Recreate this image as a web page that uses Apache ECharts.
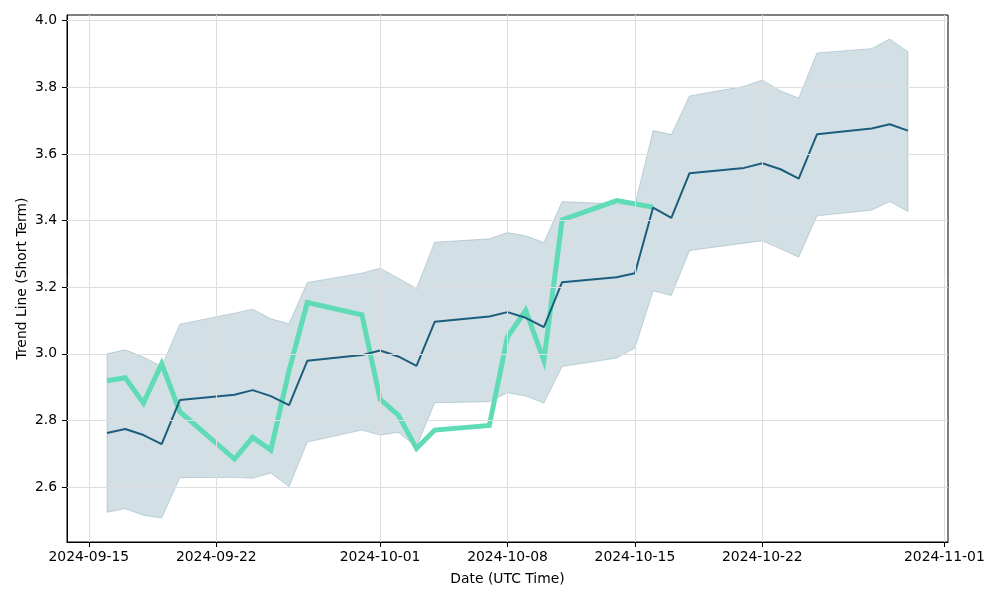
<!DOCTYPE html>
<html>
<head>
<meta charset="utf-8">
<script src="https://cdn.jsdelivr.net/npm/echarts@6/dist/echarts.min.js"></script>
<style>
  html, body { margin: 0; padding: 0; background: #fff; }
  #chart { width: 1000px; height: 600px; }
</style>
</head>
<body>
<div id="chart"></div>
<script>
// trading days (UTC)
const dates = ['2024-09-16', '2024-09-17', '2024-09-18', '2024-09-19', '2024-09-20',
  '2024-09-23', '2024-09-24', '2024-09-25', '2024-09-26', '2024-09-27',
  '2024-09-30', '2024-10-01', '2024-10-02', '2024-10-03', '2024-10-04',
  '2024-10-07', '2024-10-08', '2024-10-09', '2024-10-10', '2024-10-11',
  '2024-10-14', '2024-10-15', '2024-10-16', '2024-10-17', '2024-10-18',
  '2024-10-21', '2024-10-22', '2024-10-23', '2024-10-24', '2024-10-25',
  '2024-10-28', '2024-10-29', '2024-10-30'];

const meanLine = [2.762, 2.774, 2.756, 2.729, 2.861, 2.877, 2.891, 2.873, 2.846, 2.979,
  2.996, 3.010, 2.992, 2.964, 3.096, 3.112, 3.125, 3.108, 3.080, 3.215,
  3.230, 3.242, 3.439, 3.408, 3.542, 3.558, 3.572, 3.554, 3.526, 3.659,
  3.676, 3.689, 3.670];

const upperBand = [3.000, 3.012, 2.990, 2.962, 3.089, 3.122, 3.134, 3.105, 3.090, 3.214,
  3.242, 3.257, 3.227, 3.196, 3.335, 3.345, 3.364, 3.354, 3.334, 3.457,
  3.450, 3.447, 3.670, 3.658, 3.774, 3.803, 3.822, 3.789, 3.768, 3.903,
  3.916, 3.945, 3.907];

const lowerBand = [2.524, 2.535, 2.515, 2.507, 2.628, 2.629, 2.626, 2.642, 2.601, 2.735,
  2.771, 2.756, 2.764, 2.721, 2.853, 2.856, 2.883, 2.873, 2.852, 2.962,
  2.987, 3.017, 3.189, 3.175, 3.310, 3.332, 3.339, 3.315, 3.290, 3.414,
  3.431, 3.457, 3.427];

// short term trend (green)
const trendDates = ['2024-09-16', '2024-09-17', '2024-09-18', '2024-09-19', '2024-09-20',
  '2024-09-23', '2024-09-24', '2024-09-25', '2024-09-26', '2024-09-27',
  '2024-09-30', '2024-10-01', '2024-10-02', '2024-10-03', '2024-10-04',
  '2024-10-07', '2024-10-08', '2024-10-09', '2024-10-10', '2024-10-11',
  '2024-10-14', '2024-10-16'];
const trendLine = [2.919, 2.928, 2.852, 2.970, 2.826, 2.684, 2.749, 2.711, 2.950, 3.154,
  3.117, 2.864, 2.816, 2.716, 2.771, 2.785, 3.051, 3.130, 2.980, 3.402,
  3.460, 3.440];

const xTicks = ['2024-09-15', '2024-09-22', '2024-10-01', '2024-10-08', '2024-10-15', '2024-10-22', '2024-11-01'];
const yTicks = [2.6, 2.8, 3.0, 3.2, 3.4, 3.6, 3.8, 4.0];

function utc(d) { return new Date(d + 'T00:00:00Z').getTime(); }
function pad(n) { return n < 10 ? '0' + n : '' + n; }
function fmtDate(v) {
  const d = new Date(v);
  return d.getUTCFullYear() + '-' + pad(d.getUTCMonth() + 1) + '-' + pad(d.getUTCDate());
}

const DAY = 86400000;
const xMin = utc(dates[0]) - 2.2 * DAY;
const xMax = utc(dates[dates.length - 1]) + 2.2 * DAY;
const xTickTimes = xTicks.map(utc);
const bandData = dates.map((d, i) => [utc(d), lowerBand[i], upperBand[i]]);

const font = { fontFamily: 'DejaVu Sans', fontSize: 13.9, color: '#000' };
const bandColor = 'rgba(31,95,127,0.2)';
const edgeColor = 'rgba(31,95,127,0.22)';

// whole band as one polygon (upper edge forward, lower edge back)
function renderBand(params, api) {
  if (params.dataIndex !== 0) return null;
  const pts = [];
  for (let i = 0; i < bandData.length; i++) pts.push(api.coord([bandData[i][0], bandData[i][2]]));
  for (let i = bandData.length - 1; i >= 0; i--) pts.push(api.coord([bandData[i][0], bandData[i][1]]));
  return {
    type: 'polygon',
    shape: { points: pts },
    style: { fill: bandColor, stroke: edgeColor, lineWidth: 1 }
  };
}

const chart = echarts.init(document.getElementById('chart'), null, { renderer: 'canvas' });
chart.setOption({
  animation: false,
  textStyle: { fontFamily: 'DejaVu Sans' },
  grid: {
    left: 67, right: 52, top: 15, bottom: 58,
    show: true, borderColor: '#000', borderWidth: 1,
    outerBoundsMode: 'none'
  },
  xAxis: {
    type: 'value',
    min: xMin,
    max: xMax,
    scale: true,
    name: 'Date (UTC Time)',
    nameLocation: 'middle',
    nameGap: 30,
    nameTextStyle: font,
    axisLine: { show: true, lineStyle: { color: '#000', width: 1 } },
    axisTick: { show: true, customValues: xTickTimes, length: 5, lineStyle: { color: '#000' } },
    axisLabel: { customValues: xTickTimes, formatter: fmtDate, margin: 8, hideOverlap: false, ...font },
    splitLine: { show: false }
  },
  yAxis: {
    type: 'value',
    min: 2.435,
    max: 4.017,
    name: 'Trend Line (Short Term)',
    nameLocation: 'middle',
    nameGap: 38,
    nameMoveOverlap: false,
    nameTextStyle: font,
    axisLine: { show: true, lineStyle: { color: '#000', width: 1 } },
    axisTick: { show: true, customValues: yTicks, length: 5, lineStyle: { color: '#000' } },
    axisLabel: { customValues: yTicks, formatter: v => v.toFixed(1), margin: 10, ...font },
    splitLine: { show: false }
  },
  series: [
    {
      // invisible carrier for the grid lines
      name: 'gridlines',
      type: 'line',
      z: 1,
      symbol: 'none',
      silent: true,
      data: dates.map((d, i) => [utc(d), lowerBand[i]]),
      lineStyle: { opacity: 0 },
      markLine: {
        silent: true,
        symbol: 'none',
        label: { show: false },
        lineStyle: { color: '#dedede', type: 'solid', width: 1 },
        data: yTicks.map(v => ({ yAxis: v })).concat(xTickTimes.map(t => ({ xAxis: t })))
      }
    },
    {
      name: 'band',
      type: 'custom',
      z: 2,
      silent: true,
      renderItem: renderBand,
      encode: { x: 0, y: [1, 2] },
      data: bandData
    },
    {
      name: 'trend',
      type: 'line',
      z: 3,
      symbol: 'none',
      data: trendDates.map((d, i) => [utc(d), trendLine[i]]),
      lineStyle: { color: '#5fdcb5', width: 5, join: 'miter' }
    },
    {
      name: 'mean',
      type: 'line',
      z: 4,
      symbol: 'none',
      data: dates.map((d, i) => [utc(d), meanLine[i]]),
      lineStyle: { color: '#1c5d7d', width: 2 }
    }
  ]
});
</script>
</body>
</html>
